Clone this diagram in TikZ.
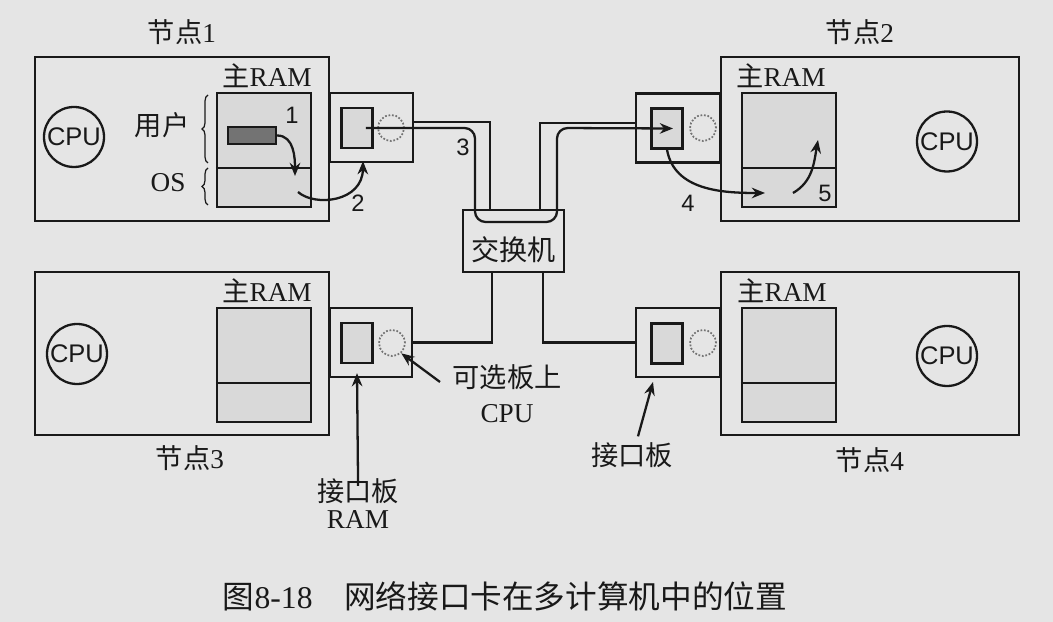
\documentclass[tikz,border=0pt]{standalone}
\usepackage{fontspec}
\setmainfont{Liberation Serif}
\setsansfont{Liberation Sans}
\newfontfamily\cjkfont{Noto Sans CJK SC}
\newcommand{\zh}[1]{{\cjkfont #1}}
\usepackage{tikz}
\usetikzlibrary{arrows.meta,positioning,calc,decorations.pathreplacing}

\definecolor{paper}{gray}{0.90}
\definecolor{ink}{gray}{0.10}
\definecolor{memfill}{gray}{0.85}
\definecolor{barfill}{gray}{0.45}
\definecolor{dotgray}{gray}{0.45}

\begin{document}
\begin{tikzpicture}[
    nodebox/.style={draw=ink, line width=1.3pt, fill=paper, inner sep=0pt},
    membox/.style={draw=ink, line width=1.3pt, fill=memfill, inner sep=0pt},
    cpucirc/.style={circle, draw=ink, line width=1.3pt, minimum size=1.2cm, inner sep=0pt, font=\sffamily\fontsize{14.5}{16}\selectfont, text=ink},
    optcirc/.style={circle, draw=dotgray, densely dotted, line width=1pt, minimum size=0.52cm, inner sep=0pt},
    lbl/.style={font=\fontsize{15.5}{18}\selectfont, text=ink, inner sep=1pt},
    numlbl/.style={font=\sffamily\fontsize{13.5}{15}\selectfont, text=ink, inner sep=1pt},
    flow/.style={-{Stealth[length=7.5pt,width=6pt]}, draw=ink, line width=1.3pt},
    cable/.style={draw=ink, line width=1.3pt},
    bracket/.style={draw=ink, line width=0.7pt, decorate, decoration={brace, amplitude=0.12cm}}
]
% Paper
\fill[paper] (0,0) rectangle (21.06,12.44);
\useasboundingbox (0,0) rectangle (21.06,12.44);

% Node 1
\node[nodebox, minimum width=5.88cm, minimum height=3.27cm] (node1) at (3.64,9.66) {};
\node[lbl, above=0.18cm of node1] (node1lbl) {\zh{节点}1};
\node[nodebox, minimum width=1.66cm, minimum height=1.38cm, anchor=west] (nic1) at (6.58,9.89) {};
\node[membox, minimum width=1.88cm, minimum height=2.28cm] (ram1) at (5.28,9.44) {};
\draw[cable] ([yshift=0.8cm]ram1.south west) -- ([yshift=0.8cm]ram1.south east);
\node[lbl, above=0.04cm of ram1, xshift=0.06cm] (ram1lbl) {\zh{主}RAM};
\node[draw=ink, line width=1.3pt, fill=barfill, minimum width=0.96cm, minimum height=0.34cm, inner sep=0pt] (bar1) at (5.04,9.73) {};
\node[cpucirc] (cpu1) at (1.48,9.70) {CPU};
\node[membox, minimum width=0.62cm, minimum height=0.80cm] (nr1) at (7.14,9.88) {};
\node[optcirc] (oc1) at (7.82,9.88) {};
\draw[bracket] (4.16,9.18) -- (4.16,10.54);
\draw[bracket] (4.16,8.34) -- (4.16,9.08);
\node[lbl] (user) at (3.24,9.94) {\zh{用户}};
\node[lbl] (os) at (3.36,8.78) {OS};

% Node 2
\node[nodebox, minimum width=5.96cm, minimum height=3.27cm] (node2) at (17.40,9.66) {};
\node[lbl, above=0.18cm of node2, xshift=-0.2cm] (node2lbl) {\zh{节点}2};
\node[nodebox, minimum width=1.68cm, minimum height=1.38cm, anchor=east] (nic2) at (14.42,9.88) {};
\node[membox, minimum width=1.88cm, minimum height=2.28cm] (ram2) at (15.78,9.44) {};
\draw[cable] ([yshift=0.8cm]ram2.south west) -- ([yshift=0.8cm]ram2.south east);
\node[lbl, above=0.04cm of ram2, xshift=-0.16cm] (ram2lbl) {\zh{主}RAM};
\node[cpucirc] (cpu2) at (18.94,9.61) {CPU};
\node[membox, minimum width=0.62cm, minimum height=0.80cm] (nr2) at (13.34,9.87) {};
\node[optcirc] (oc2) at (14.06,9.88) {};

% Node 3
\node[nodebox, minimum width=5.88cm, minimum height=3.26cm] (node3) at (3.64,5.37) {};
\node[lbl, below=0.15cm of node3, xshift=0.16cm] (node3lbl) {\zh{节点}3};
\node[nodebox, minimum width=1.64cm, minimum height=1.38cm, anchor=west] (nic3) at (6.58,5.59) {};
\node[membox, minimum width=1.88cm, minimum height=2.28cm] (ram3) at (5.28,5.14) {};
\draw[cable] ([yshift=0.8cm]ram3.south west) -- ([yshift=0.8cm]ram3.south east);
\node[lbl, above=0.04cm of ram3, xshift=0.06cm] (ram3lbl) {\zh{主}RAM};
\node[cpucirc] (cpu3) at (1.54,5.36) {CPU};
\node[membox, minimum width=0.62cm, minimum height=0.80cm] (nr3) at (7.14,5.58) {};
\node[optcirc] (oc3) at (7.84,5.58) {};

% Node 4
\node[nodebox, minimum width=5.96cm, minimum height=3.26cm] (node4) at (17.40,5.37) {};
\node[lbl, below=0.19cm of node4] (node4lbl) {\zh{节点}4};
\node[nodebox, minimum width=1.68cm, minimum height=1.38cm, anchor=east] (nic4) at (14.42,5.59) {};
\node[membox, minimum width=1.88cm, minimum height=2.28cm] (ram4) at (15.78,5.14) {};
\draw[cable] ([yshift=0.8cm]ram4.south west) -- ([yshift=0.8cm]ram4.south east);
\node[lbl, above=0.04cm of ram4, xshift=-0.14cm] (ram4lbl) {\zh{主}RAM};
\node[cpucirc] (cpu4) at (18.94,5.32) {CPU};
\node[membox, minimum width=0.62cm, minimum height=0.80cm] (nr4) at (13.34,5.57) {};
\node[optcirc] (oc4) at (14.06,5.58) {};

% Switch
\node[nodebox, minimum width=2.02cm, minimum height=1.24cm] (sw) at (10.27,7.62) {};
\node[lbl, font=\fontsize{16}{18}\selectfont] (swlbl) at (10.27,7.44) {\zh{交换机}};

% Cables
\draw[cable] ([yshift=3pt]nic1.east) -| ([xshift=-0.47cm]sw.north);
\draw[cable] ([xshift=0.53cm]sw.north) |- ([yshift=3pt]nic2.west);
\draw[cable] ([xshift=-0.43cm]sw.south) |- (nic3.east);
\draw[cable] ([xshift=0.59cm]sw.south) |- (nic4.west);

% Message path
\draw[flow, rounded corners=6pt] ([xshift=5pt]nr1.center) -- (9.50,9.88) -- (9.50,8.00) -- (11.14,8.00) -- (11.14,9.88) -- ([xshift=0.12cm]nr2.center);
\coordinate (a1tip) at (5.90,8.92);
\draw[flow] (bar1.east) to[out=0, in=90] (a1tip);
\coordinate (a2start) at (5.96,8.60);
\draw[flow] (a2start) .. controls (6.30,8.30) and (7.25,8.40) .. ([xshift=0.12cm,yshift=-0.24cm]nr1.south);
\coordinate (a4tip) at (15.30,8.58);
\draw[flow] (nr2.south) to[out=-80, in=180] (a4tip);
\coordinate (a5start) at (15.86,8.58);
\coordinate (a5tip) at (16.36,9.64);
\draw[flow] (a5start) to[out=30, in=-100] (a5tip);
\node[numlbl] (step1) at (5.84,10.14) {1};
\node[numlbl] (step2) at (7.16,8.38) {2};
\node[numlbl] (step3) at (9.26,9.50) {3};
\node[numlbl] (step4) at (13.76,8.38) {4};
\node[numlbl] (step5) at (16.50,8.58) {5};

% Callouts
\node[lbl, align=center, font=\fontsize{15.5}{19.9}\selectfont] (optlbl) at (10.14,4.57) {\zh{可选板上}\\CPU};
\coordinate (optTail) at (8.80,4.80);
\draw[flow] (optTail) -- (oc3.-48);
\node[lbl, align=center, font=\fontsize{15.5}{15.3}\selectfont] (ramlbl) at (7.16,2.36) {\zh{接口板}\\RAM};
\draw[flow, shorten <=-5pt] (ramlbl.north) -- ([yshift=-0.18cm]nr3.south);
\node[lbl] (niclbl) at (12.64,3.34) {\zh{接口板}};
\coordinate (tip4) at (13.06,4.80);
\draw[flow] ([xshift=0.12cm,yshift=0.08cm]niclbl.north) -- (tip4);

% Caption
\node[lbl, font=\fontsize{18}{20}\selectfont] (caption) at (10.10,0.52) {\zh{图}8-18\quad\zh{网络接口卡在多计算机中的位置}};
\end{tikzpicture}
\end{document}
